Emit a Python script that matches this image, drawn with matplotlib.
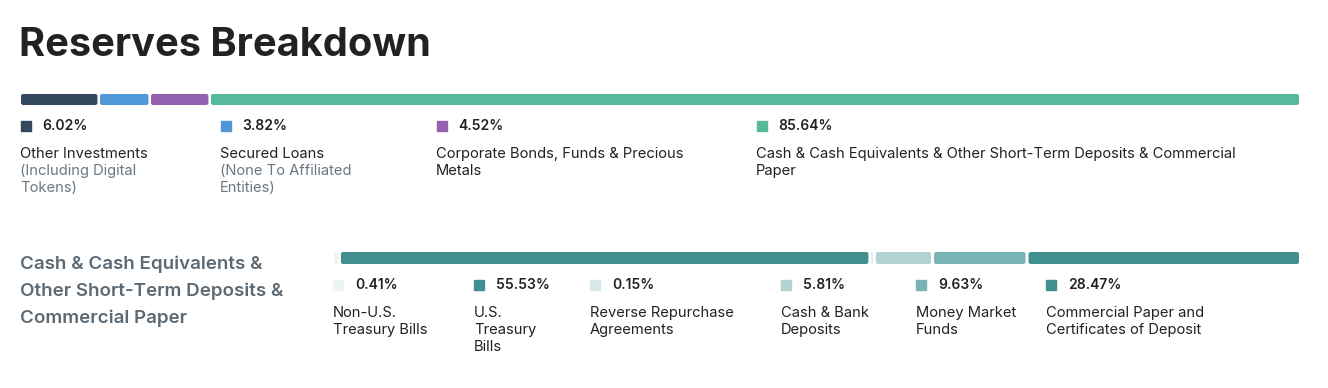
import matplotlib
matplotlib.use("Agg")
import matplotlib.pyplot as plt
from matplotlib.patches import FancyBboxPatch

plt.rcParams['font.family'] = ['Inter', 'DejaVu Sans']

# ---- data ----
title = "Reserves Breakdown"
top_values = [6.02, 3.82, 4.52, 85.64]
top_colors = ["#34495e", "#4f97d6", "#9460b0", "#55b99c"]
top_main = [["Other Investments"], ["Secured Loans"],
            ["Corporate Bonds, Funds & Precious", "Metals"],
            ["Cash & Cash Equivalents & Other Short-Term Deposits & Commercial", "Paper"]]
top_sub = [["(Including Digital", "Tokens)"], ["(None To Affiliated", "Entities)"], [], []]

sub_title = ["Cash & Cash Equivalents &", "Other Short-Term Deposits &", "Commercial Paper"]
bot_values = [0.41, 55.53, 0.15, 5.81, 9.63, 28.47]
bot_colors = ["#ecf3f3", "#418f8f", "#d8e7e7", "#b3d3d3", "#7ab3b3", "#418f8f"]
bot_labels = [["Non-U.S.", "Treasury Bills"], ["U.S.", "Treasury", "Bills"],
              ["Reverse Repurchase", "Agreements"], ["Cash & Bank", "Deposits"],
              ["Money Market", "Funds"], ["Commercial Paper and", "Certificates of Deposit"]]

W, H = 1328, 388
fig = plt.figure(figsize=(W / 100, H / 100), dpi=100)
fig.patch.set_facecolor("white")

def px(x, y):
    return x / W, 1 - y / H

def bar_axes(x0, x1, y0, y1):
    ax = fig.add_axes([x0 / W, 1 - y1 / H, (x1 - x0) / W, (y1 - y0) / H])
    ax.set_xlim(0, 100)
    ax.set_ylim(-0.5, 0.5)
    ax.axis("off")
    return ax

def stacked(ax, values, colors, width_px, height_px, gap_px):
    unit = 100 / width_px                     # data units per pixel (x)
    gap = gap_px * unit
    scale = (100 - gap * (len(values) - 1)) / sum(values)
    aspect = (1 / height_px) / unit
    left = 0
    for v, c in zip(values, colors):
        w = v * scale
        r = min(2.2 * unit, w / 2)
        ax.add_patch(FancyBboxPatch((left, -0.5), w, 1,
                                    boxstyle=f"round,pad=0,rounding_size={r}",
                                    mutation_aspect=aspect, facecolor=c, linewidth=0))
        left += w + gap

DARK = "#222222"
GRAY = "#6b7884"
FS = 10.6
PFS = 10.0

fig.text(*px(19, 46), title, fontsize=28.6, fontweight="bold", color=DARK, va="center", ha="left")

# top bar
ax1 = bar_axes(21, 1299, 94, 105)
stacked(ax1, top_values, top_colors, 1278, 11, 2.5)

top_x = [21, 221, 437, 757]
for i, x in enumerate(top_x):
    fig.patches.append(plt.Rectangle(px(x, 131), 10 / W, 10 / H, transform=fig.transFigure,
                                     color=top_colors[i]))
    fig.text(*px(x + 21, 126), f"{top_values[i]:.2f}%", fontsize=PFS, fontweight="semibold",
             color=DARK, va="center", ha="left")
    y = 154
    for line in top_main[i]:
        fig.text(*px(x - 1, y), line, fontsize=FS, color=DARK, va="center", ha="left")
        y += 17
    for line in top_sub[i]:
        fig.text(*px(x - 1, y), line, fontsize=FS, color=GRAY, va="center", ha="left")
        y += 17

# bottom
for j, line in enumerate(sub_title):
    fig.text(*px(20, 264 + 27 * j), line, fontsize=13.5, fontweight="semibold", color="#5d6a74",
             va="center", ha="left")

ax2 = bar_axes(334, 1299, 252, 264)
stacked(ax2, bot_values, bot_colors, 965, 12, 3)

bot_x = [333, 474, 590, 781, 916, 1046]
for i, x in enumerate(bot_x):
    fig.patches.append(plt.Rectangle(px(x, 290), 10 / W, 10 / H, transform=fig.transFigure,
                                     color=bot_colors[i]))
    fig.text(*px(x + 22, 285), f"{bot_values[i]:.2f}%", fontsize=PFS, fontweight="semibold",
             color=DARK, va="center", ha="left")
    y = 313
    for line in bot_labels[i]:
        fig.text(*px(x, y), line, fontsize=FS, color=DARK, va="center", ha="left")
        y += 17

fig.savefig("out.png", dpi=100, facecolor="white")
